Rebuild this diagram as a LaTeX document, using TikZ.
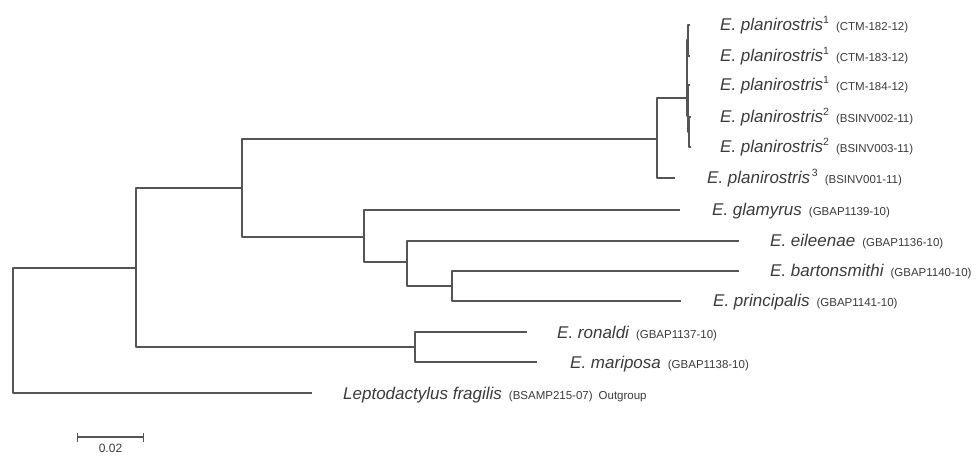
\documentclass[tikz,border=0pt]{standalone}
\usepackage{fontspec}
\setmainfont{Liberation Sans}
\usetikzlibrary{positioning,arrows.meta}
\definecolor{treeline}{HTML}{555555}
\definecolor{labtext}{HTML}{3A3A3A}
\newcommand{\supn}[1]{\raisebox{7pt}{\fontsize{10.5}{10.5}\selectfont #1}}
\newcommand{\taxon}[3]{{\fontsize{17}{17}\selectfont\itshape #1}\supn{#2}\hspace{7pt}{\fontsize{11.5}{11.5}\selectfont #3}}
\begin{document}
\begin{tikzpicture}[x=1pt, y=-1pt, line join=round,
    branch/.style={draw=treeline, line width=1.3pt},
    lab/.style={inner sep=0pt, text=labtext}]
	\useasboundingbox (0,0) rectangle (978,457);
	% internal nodes
	\coordinate (root) at (13,330);
	\coordinate (B) at (136,268);
	\coordinate (C) at (242,188);
	\coordinate (P) at (657,139);
	\coordinate (Q) at (687,98);
	\coordinate (Q1) at (688,40);
	\coordinate (Q2) at (688,116);
	\coordinate (Q3) at (689,132);
	\coordinate (G) at (364,237);
	\coordinate (E) at (407,262);
	\coordinate (Bt) at (452,286);
	\coordinate (R) at (415,347);
	% tips
	\coordinate (t1) at (690,25);
	\coordinate (t2) at (690,56);
	\coordinate (t3) at (690,85);
	\coordinate (t4) at (691,117);
	\coordinate (t5) at (691,147);
	\coordinate (p3) at (675,178);
	\coordinate (gla) at (680,210);
	\coordinate (eil) at (739,241);
	\coordinate (bar) at (739,271);
	\coordinate (pri) at (681,301);
	\coordinate (ron) at (527,332);
	\coordinate (mar) at (537,362);
	\coordinate (out) at (312,393);
	% branches
	\foreach \a/\b in {root/B, root/out, B/C, B/R, C/P, C/G, P/Q, P/p3,
	                   Q/Q1, Q/Q2, Q1/t1, Q1/t2, Q2/t3, Q2/Q3, Q3/t4, Q3/t5,
	                   G/gla, G/E, E/eil, E/Bt, Bt/bar, Bt/pri, R/ron, R/mar}
		\draw[branch] (\a) |- (\b);
	% labels
	\node[lab, base right=30pt of t1, yshift=-6pt] (l1) {\taxon{E. planirostris}{1}{(CTM-182-12)}};
	\node[lab, base right=30pt of t2, yshift=-6pt] (l2) {\taxon{E. planirostris}{1}{(CTM-183-12)}};
	\node[lab, base right=30pt of t3, yshift=-6pt] (l3) {\taxon{E. planirostris}{1}{(CTM-184-12)}};
	\node[lab, base right=29pt of t4, yshift=-6pt] (l4) {\taxon{E. planirostris}{2}{(BSINV002-11)}};
	\node[lab, base right=29pt of t5, yshift=-6pt] (l5) {\taxon{E. planirostris}{2}{(BSINV003-11)}};
	\node[lab, base right=32pt of p3, yshift=-6pt] (l6) {\taxon{E. planirostris}{\,3}{(BSINV001-11)}};
	\node[lab, base right=32pt of gla, yshift=-6pt] (l7) {\taxon{E. glamyrus}{}{(GBAP1139-10)}};
	\node[lab, base right=31pt of eil, yshift=-6pt] (l8) {\taxon{E. eileenae}{}{(GBAP1136-10)}};
	\node[lab, base right=31pt of bar, yshift=-6pt] (l9) {\taxon{E. bartonsmithi}{}{(GBAP1140-10)}};
	\node[lab, base right=32pt of pri, yshift=-6pt] (l10) {\taxon{E. principalis}{}{(GBAP1141-10)}};
	\node[lab, base right=30pt of ron, yshift=-6pt] (l11) {\taxon{E. ronaldi}{}{(GBAP1137-10)}};
	\node[lab, base right=33pt of mar, yshift=-6pt] (l12) {\taxon{E. mariposa}{}{(GBAP1138-10)}};
	\node[lab, base right=31pt of out, yshift=-6pt] (l13) {\taxon{Leptodactylus fragilis}{}{(BSAMP215-07)\hspace{6pt}Outgroup}};
	% scale bar
	\coordinate (s0) at (77,437);
	\coordinate (s1) at (144,437);
	\draw[branch, {Bar[width=9pt]}-{Bar[width=9pt]}] (s0) -- (s1)
		node[midway, below=6pt, lab, font=\fontsize{12}{12}\selectfont] (sl) {0.02};
\end{tikzpicture}
\end{document}
